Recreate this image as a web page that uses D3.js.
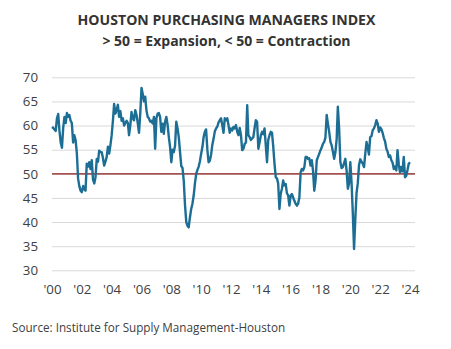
<!DOCTYPE html>
<html>
<head>
<meta charset="utf-8">
<script src="https://cdn.jsdelivr.net/npm/d3@7"></script>
<style>
  html, body { margin: 0; padding: 0; background: #ffffff; }
  svg { display: block; }
</style>
</head>
<body>
<svg id="chart" width="451" height="349"></svg>
<script>
// Houston PMI, monthly readings, one array per calendar year
const firstYear = 2000;
const pmi2000 = [59.7, 59.5, 59.2, 58.9, 61.5, 62.4, 59.0, 56.5, 55.4, 59.5, 61.8, 60.5];
const pmi2001 = [62.6, 61.8, 62.2, 61.0, 60.5, 56.5, 58.0, 57.0, 54.2, 49.0, 47.4, 46.5];
const pmi2002 = [46.2, 47.5, 46.8, 46.5, 52.1, 51.5, 52.4, 51.0, 52.8, 48.8, 48.0, 49.3];
const pmi2003 = [53.1, 52.5, 54.8, 54.5, 54.5, 53.3, 51.7, 52.5, 53.5, 55.6, 54.2, 55.9];
const pmi2004 = [58.0, 61.0, 64.5, 62.5, 63.2, 64.3, 61.8, 63.0, 61.0, 61.5, 60.0, 60.5];
const pmi2005 = [61.0, 60.5, 58.0, 60.0, 62.8, 61.5, 61.1, 63.2, 62.2, 60.5, 58.5, 62.5];
const pmi2006 = [67.8, 66.5, 65.0, 66.0, 63.2, 61.8, 61.5, 60.8, 61.0, 60.4, 61.8, 55.2];
const pmi2007 = [61.5, 62.5, 62.6, 61.8, 58.7, 60.4, 58.3, 60.8, 61.8, 60.2, 57.6, 55.6];
const pmi2008 = [52.4, 55.0, 54.5, 55.8, 60.8, 59.4, 57.6, 54.5, 51.6, 51.2, 48.5, 43.5];
const pmi2009 = [40.0, 39.2, 38.9, 41.0, 42.7, 43.8, 45.5, 48.0, 50.0, 50.8, 51.5, 52.6];
const pmi2010 = [54.2, 55.6, 57.6, 58.7, 59.2, 55.0, 52.4, 52.7, 54.0, 56.0, 57.3, 58.8];
const pmi2011 = [59.4, 59.8, 60.6, 61.1, 61.5, 60.1, 58.5, 61.5, 61.1, 61.5, 60.1, 58.5];
const pmi2012 = [59.4, 59.0, 59.7, 59.4, 60.1, 58.7, 58.0, 59.5, 58.0, 54.9, 55.2, 56.2];
const pmi2013 = [56.5, 64.2, 58.0, 57.6, 57.0, 57.3, 57.6, 59.5, 61.1, 60.8, 55.2, 56.5];
const pmi2014 = [58.0, 58.7, 58.2, 59.4, 56.0, 52.4, 57.0, 58.0, 58.7, 58.5, 55.6, 52.1];
const pmi2015 = [49.3, 49.0, 48.0, 42.7, 45.8, 46.9, 48.6, 47.6, 47.9, 46.0, 45.5, 43.4];
const pmi2016 = [45.5, 45.8, 45.1, 44.4, 43.8, 43.4, 43.8, 45.1, 50.3, 51.0, 50.7, 51.4];
const pmi2017 = [53.5, 53.5, 53.1, 53.2, 51.7, 52.8, 50.7, 46.5, 48.6, 52.8, 53.5, 54.2];
const pmi2018 = [54.9, 55.5, 56.2, 56.6, 57.5, 62.2, 60.4, 58.7, 56.6, 55.9, 54.5, 53.1];
const pmi2019 = [54.5, 57.3, 63.9, 59.5, 52.5, 51.2, 51.4, 52.2, 53.1, 50.7, 46.9, 48.0];
const pmi2020 = [52.4, 48.0, 42.0, 34.4, 40.5, 46.0, 48.0, 51.8, 53.0, 52.5, 52.1, 51.4];
const pmi2021 = [54.2, 56.6, 55.5, 54.0, 57.6, 57.8, 59.0, 59.4, 60.1, 61.1, 60.4, 58.7];
const pmi2022 = [59.6, 59.2, 58.5, 57.4, 56.7, 55.2, 54.6, 53.5, 53.8, 52.8, 52.3, 51.0];
const pmi2023 = [51.5, 50.7, 54.9, 52.0, 50.3, 51.4, 50.5, 53.5, 49.3, 49.6, 50.8, 52.1];
const pmi2024 = [52.4];

const yTicks = [30, 35, 40, 45, 50, 55, 60, 65, 70];
const xTickYears = [2000, 2002, 2004, 2006, 2008, 2010, 2012, 2014, 2016, 2018, 2020, 2022, 2024];
const threshold = 50;

const titleText = "HOUSTON PURCHASING MANAGERS INDEX";
const subtitleText = "> 50 = Expansion, < 50 = Contraction";
const sourceText = "Source: Institute for Supply Management-Houston";

// flatten yearly arrays into dated points
const years = [pmi2000, pmi2001, pmi2002, pmi2003, pmi2004, pmi2005, pmi2006, pmi2007,
  pmi2008, pmi2009, pmi2010, pmi2011, pmi2012, pmi2013, pmi2014, pmi2015, pmi2016,
  pmi2017, pmi2018, pmi2019, pmi2020, pmi2021, pmi2022, pmi2023, pmi2024];
const series = [];
years.forEach((vals, i) => {
  vals.forEach((v, m) => series.push({ date: new Date(firstYear + i, m, 1), value: v }));
});

const svg = d3.select("#chart");
const font = "'Open Sans', 'Noto Sans', sans-serif";

const x = d3.scaleTime()
  .domain([new Date(2000, 0, 1), new Date(2024, 0, 1)])
  .range([52, 410]);
const y = d3.scaleLinear().domain([30, 70]).range([270.3, 77.3]);

// titles
svg.append("text")
  .attr("x", 226.5).attr("y", 24.5)
  .attr("text-anchor", "middle")
  .style("font-family", font).style("font-weight", 700).style("font-size", "14.1px")
  .attr("fill", "#333333")
  .text(titleText);
svg.append("text")
  .attr("x", 226.5).attr("y", 45.5)
  .attr("text-anchor", "middle")
  .style("font-family", font).style("font-weight", 700).style("font-size", "14px")
  .attr("fill", "#333333")
  .text(subtitleText);

// horizontal gridlines via a left axis with full-width ticks
const yAxis = d3.axisLeft(y).tickValues(yTicks).tickSize(-(415 - 52)).tickFormat(d3.format("d")).tickPadding(14);
const gy = svg.append("g").attr("transform", "translate(52,0)").call(yAxis);
gy.select(".domain").remove();
gy.selectAll(".tick line").attr("stroke", "#d9d9d9").attr("stroke-width", 1);
gy.selectAll(".tick text")
  .style("font-family", font).style("font-size", "13.3px").attr("fill", "#404040");

// x axis labels only
const xAxis = d3.axisBottom(x)
  .tickValues(xTickYears.map(yr => new Date(yr, 0, 1)))
  .tickFormat(d => "'" + d3.timeFormat("%y")(d))
  .tickSize(0).tickPadding(14);
const gx = svg.append("g").attr("transform", "translate(0,270.3)").call(xAxis);
gx.select(".domain").remove();
gx.selectAll(".tick text")
  .style("font-family", font).style("font-size", "13.3px").attr("fill", "#404040");

// threshold line at 50
svg.append("line")
  .attr("x1", 52).attr("x2", 415)
  .attr("y1", y(threshold)).attr("y2", y(threshold))
  .attr("stroke", "#8b1a1a").attr("stroke-width", 1.3);

// PMI line
const line = d3.line().x(d => x(d.date)).y(d => y(d.value));
svg.append("path")
  .datum(series)
  .attr("d", line)
  .attr("fill", "none")
  .attr("stroke", "#1d6e94")
  .attr("stroke-width", 2.4)
  .attr("stroke-linejoin", "round");

// source note
svg.append("text")
  .attr("x", 12).attr("y", 331.5)
  .style("font-family", font).style("font-size", "11.7px")
  .attr("fill", "#404040")
  .text(sourceText);
</script>
</body>
</html>
